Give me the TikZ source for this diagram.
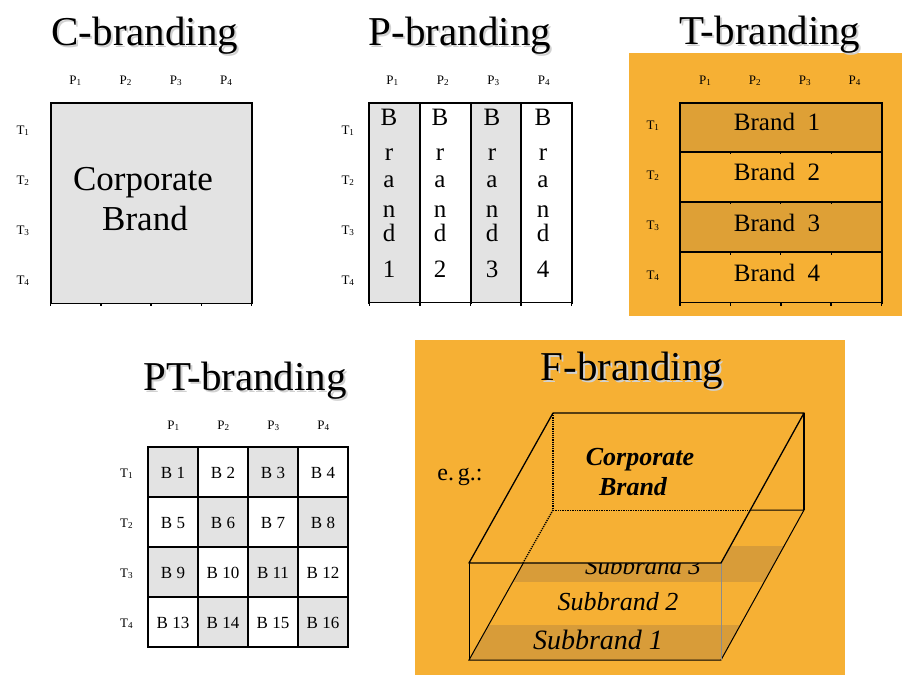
\documentclass[tikz,border=0pt]{standalone}
\usepackage{fontspec}
\setmainfont{Liberation Serif}
\definecolor{cgray}{HTML}{E3E3E3}
\definecolor{corange}{HTML}{F6B034}
\definecolor{cdark}{HTML}{DEA036}
\definecolor{cband}{HTML}{D89C39}
\newcommand{\shtext}[1]{\makebox[0pt][l]{\hspace{2pt}\raisebox{-2pt}{\color{black!18}#1}}#1}
\begin{document}
\begin{tikzpicture}[x=1pt,y=-1pt,
  title/.style={font=\fontsize{41}{45}\selectfont, anchor=base, inner sep=0pt},
  lbl/.style={font=\fontsize{13}{13}\selectfont, anchor=base, inner sep=0pt},
  grid/.style={line width=2pt, line cap=rect},
  big/.style={font=\fontsize{35}{35}\selectfont, anchor=base, inner sep=0pt},
  letter/.style={font=\fontsize{25}{25}\selectfont, anchor=base, inner sep=0pt},
  cell/.style={font=\fontsize{17}{17}\selectfont, anchor=base, inner sep=0pt},
  sub/.style={font=\itshape, anchor=base, inner sep=0pt},
  thin/.style={line width=1pt}]
\useasboundingbox (0,0) rectangle (902,675);
\fill[white] (0,0) rectangle (902,675);

% ---------------- C-branding ----------------
\node[title] (ct) at (145,45) {\shtext{C-branding}};
\fill[cgray] (50.7,102.7) rectangle (251.7,303.3);
\draw[grid] (50.7,303.3) -- (50.7,102.7) -- (251.7,102.7) -- (251.7,303.3);
\draw[line width=1.5pt] (50.7,303.3) -- (251.7,303.3);
\foreach \i in {0,...,4} \draw[line width=1.5pt] (50.7+\i*50.25,303) -- ++(0,3);
\foreach \i in {1,...,4} {
  \node[lbl] (cp\i) at (25.2+\i*50.25,84) {P\textsubscript{\i}};
  \node[lbl] (ctl\i) at (23,84+\i*50) {T\textsubscript{\i}};
}
\node[big] (cc1) at (143,190) {Corporate};
\node[big] (cc2) at (145,230) {Brand};

% ---------------- P-branding ----------------
\node[title] (pt) at (460,45) {\shtext{P-branding}};
\fill[cgray] (369.3,102.7) rectangle (419.9,302.7);
\fill[cgray] (470.5,102.7) rectangle (521.1,302.7);
\draw[grid] (369.3,302.7) -- (369.3,102.7) -- (571.7,102.7) -- (571.7,302.7);
\foreach \i in {1,2,3} \draw[grid] (369.3+\i*50.6,102.7) -- (369.3+\i*50.6,302.7);
\draw[line width=1.5pt] (369.3,302.7) -- (571.7,302.7);
\foreach \i in {0,...,4} \draw[line width=1.5pt] (369.3+\i*50.6,302.5) -- ++(0,3);
\foreach \i in {1,...,4} {
  \node[lbl] (pp\i) at (342+\i*50.5,84) {P\textsubscript{\i}};
  \node[lbl] (ptl\i) at (348,84+\i*50) {T\textsubscript{\i}};
}
\foreach \i/\x in {1/389,2/440,3/492,4/543} {
  \node[letter] (pB\i) at (\x,125) {B};
  \node[letter] (pr\i) at (\x,160) {r};
  \node[letter] (pa\i) at (\x,187) {a};
  \node[letter] (pn\i) at (\x,217) {n};
  \node[letter] (pd\i) at (\x,241) {d};
  \node[letter] (pnum\i) at (\x,277) {\i};
}

% ---------------- T-branding ----------------
\fill[corange] (629.3,53.3) rectangle (902,316);
\node[title] (tt) at (770,44) {\shtext{T-branding}};
\fill[cdark] (680,102.7) rectangle (881.7,151.7);
\fill[cdark] (680,201.7) rectangle (881.7,252.3);
\draw[grid] (680,302.7) -- (680,102.7) -- (881.7,102.7) -- (881.7,302.7);
\foreach \y in {151.7,201.7,252.3} {
  \draw[grid] (680,\y) -- (881.7,\y);
  \foreach \i in {1,2,3} \draw[line width=1.2pt] (680+\i*50.4,\y) -- ++(0,2.5);
}
\draw[line width=1.5pt] (680,302.7) -- (881.7,302.7);
\foreach \i in {0,...,4} \draw[line width=1.5pt] (680+\i*50.4,302.5) -- ++(0,3);
\foreach \i in {1,...,4} {
  \node[lbl] (tp\i) at (655.5+\i*49.8,84) {P\textsubscript{\i}};
  \node[lbl] (ttl\i) at (653,79+\i*50) {T\textsubscript{\i}};
}
\foreach \i/\y in {1/130,2/180,3/231.5,4/281.5}
  \node[letter] (tb\i) at (777,\y) {Brand\ \ \i};

% ---------------- PT-branding ----------------
\node[title] (ptt) at (245,390) {\shtext{PT-branding}};
\foreach \r in {1,...,4} \foreach \c in {1,...,4} {
  \pgfmathtruncatemacro{\parity}{mod(\r+\c,2)}
  \ifnum\parity=0 \fill[cgray] (98+\c*50,397+\r*50) rectangle ++(50,50); \fi
}
\draw[grid] (148,447) rectangle (348,647);
\foreach \i in {1,2,3} {
  \draw[grid] (148+\i*50,447) -- (148+\i*50,647);
  \draw[grid] (148,447+\i*50) -- (348,447+\i*50);
}
\foreach \i in {1,...,4} {
  \node[lbl] (ptp\i) at (123.5+\i*50,429) {P\textsubscript{\i}};
  \node[lbl] (pttl\i) at (126.7,427+\i*50) {T\textsubscript{\i}};
}
\foreach \r in {1,...,4} \foreach \c in {1,...,4} {
  \pgfmathtruncatemacro{\num}{(\r-1)*4+\c}
  \node[cell] (b\num) at (123+\c*50,428+\r*50) {B \num};
}

% ---------------- F-branding ----------------
\fill[corange] (415,340) rectangle (845,675);
\node[title] (ft) at (632,380) {\shtext{F-branding}};
\node[font=\fontsize{24}{24}\selectfont, anchor=base, inner sep=0pt] (eg) at (460,480) {e.\,g.:};
\begin{scope}
  \clip (553,510) -- (804,510) -- (721,660) -- (469,660) -- cycle;
  \fill[cband] (400,625) rectangle (850,660);
  \fill[cband] (400,546) rectangle (850,582);
\end{scope}
\node[sub, font=\itshape\fontsize{25}{25}\selectfont] (s3) at (643,574) {Subbrand 3};
\node[sub, font=\itshape\fontsize{26}{26}\selectfont] (s2) at (618,610) {Subbrand 2};
\node[sub, font=\itshape\fontsize{28}{28}\selectfont] (s1) at (598,649) {Subbrand 1};
% bottom face and front face
\draw[thin] (469,660) -- (721,660) -- (804,510) -- (553,510) -- cycle;
\draw[thin] (469,563) -- (469,660);
\draw[line width=0.5pt, black!45] (721,563) -- (721,660);
% top face
\filldraw[corange, draw=black, line width=1.3pt, line join=round]
  (553,413) -- (804,413) -- (721,563) -- (469,563) -- cycle;
\draw[line width=1.3pt] (804,413) -- (804,510);
% hidden edges
\draw[line width=1.2pt, densely dotted] (553,413) -- (553,510);
\draw[line width=0.7pt, densely dotted] (553,510) -- (750,510);
\draw[line width=1.3pt, densely dotted] (553,510) -- (523,563);
\node[font=\bfseries\itshape\fontsize{26}{26}\selectfont, anchor=base, inner sep=0pt] (fc1) at (640,465) {Corporate};
\node[font=\bfseries\itshape\fontsize{26}{26}\selectfont, anchor=base, inner sep=0pt] (fc2) at (633,495) {Brand};
\end{tikzpicture}
\end{document}
